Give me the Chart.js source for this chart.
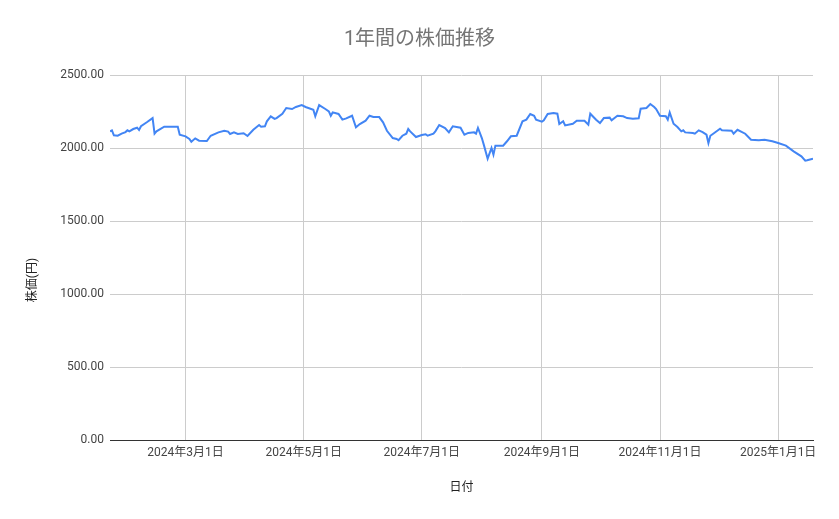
<!DOCTYPE html>
<html>
<head>
<meta charset="utf-8">
<script src="https://cdn.jsdelivr.net/npm/chart.js@4/dist/chart.umd.min.js"></script>
<style>
  html, body { margin: 0; padding: 0; background: #ffffff; }
  #wrap { width: 839px; height: 519px; }
</style>
</head>
<body>
<div id="wrap"><canvas id="c" width="839" height="519"></canvas></div>
<script>
// ---- data ----
const chartTitle = '1年間の株価推移';
const xAxisTitle = '日付';
const yAxisTitle = '株価(円)';

const dates = [
  '2024-01-22','2024-01-23','2024-01-24','2024-01-26','2024-01-28','2024-01-30','2024-01-31','2024-02-01',
  '2024-02-03','2024-02-05','2024-02-06','2024-02-07','2024-02-10','2024-02-13','2024-02-14','2024-02-15',
  '2024-02-19','2024-02-26','2024-02-27','2024-03-01','2024-03-03','2024-03-04','2024-03-06','2024-03-08',
  '2024-03-12','2024-03-14','2024-03-18','2024-03-21','2024-03-23','2024-03-24','2024-03-26','2024-03-28',
  '2024-03-31','2024-04-02','2024-04-05','2024-04-08','2024-04-09','2024-04-11','2024-04-12','2024-04-14',
  '2024-04-16','2024-04-17','2024-04-20','2024-04-22','2024-04-25','2024-04-27','2024-04-30','2024-05-02',
  '2024-05-06','2024-05-07','2024-05-09','2024-05-12','2024-05-14','2024-05-15','2024-05-16','2024-05-19',
  '2024-05-21','2024-05-23','2024-05-26','2024-05-28','2024-05-30','2024-06-02','2024-06-04','2024-06-06',
  '2024-06-09','2024-06-11','2024-06-13','2024-06-16','2024-06-18','2024-06-19','2024-06-21','2024-06-23',
  '2024-06-24','2024-06-25','2024-06-28','2024-07-01','2024-07-03','2024-07-04','2024-07-07','2024-07-08',
  '2024-07-10','2024-07-13','2024-07-15','2024-07-17','2024-07-21','2024-07-23','2024-07-25','2024-07-28',
  '2024-07-29','2024-07-30','2024-08-01','2024-08-02','2024-08-04','2024-08-06','2024-08-07','2024-08-08',
  '2024-08-12','2024-08-14','2024-08-16','2024-08-19','2024-08-22','2024-08-24','2024-08-26','2024-08-28',
  '2024-08-29','2024-09-01','2024-09-02','2024-09-04','2024-09-07','2024-09-09','2024-09-10','2024-09-12',
  '2024-09-13','2024-09-17','2024-09-19','2024-09-23','2024-09-25','2024-09-26','2024-09-29','2024-10-01',
  '2024-10-03','2024-10-06','2024-10-07','2024-10-10','2024-10-13','2024-10-15','2024-10-18','2024-10-21',
  '2024-10-22','2024-10-25','2024-10-27','2024-10-29','2024-10-30','2024-11-01','2024-11-04','2024-11-05',
  '2024-11-06','2024-11-08','2024-11-10','2024-11-12','2024-11-13','2024-11-14','2024-11-18','2024-11-19',
  '2024-11-21','2024-11-23','2024-11-25','2024-11-26','2024-11-27','2024-11-29','2024-12-02','2024-12-03',
  '2024-12-08','2024-12-09','2024-12-11','2024-12-15','2024-12-18','2024-12-22','2024-12-25','2024-12-29',
  '2025-01-01','2025-01-05','2025-01-09','2025-01-13','2025-01-15','2025-01-16','2025-01-19'
];

const prices = [
  2114,2121,2087,2084,2098,2109,2121,2114,
  2130,2139,2123,2149,2176,2205,2098,2114,
  2146,2146,2091,2080,2062,2043,2066,2050,
  2048,2084,2107,2118,2112,2096,2107,2096,
  2101,2082,2125,2157,2146,2149,2183,2217,
  2199,2205,2235,2274,2267,2281,2294,2281,
  2262,2217,2294,2269,2251,2221,2244,2233,
  2194,2203,2221,2142,2164,2187,2221,2212,
  2212,2176,2118,2068,2062,2053,2084,2098,
  2130,2114,2075,2089,2094,2084,2098,2114,
  2157,2137,2107,2149,2139,2091,2103,2107,
  2098,2137,2068,2023,1927,2000,1954,2016,
  2016,2046,2080,2084,2183,2194,2233,2221,
  2194,2180,2190,2233,2240,2235,2164,2183,
  2155,2166,2187,2187,2160,2235,2194,2171,
  2205,2208,2190,2221,2217,2205,2201,2203,
  2269,2274,2301,2281,2267,2221,2217,2194,
  2244,2166,2144,2114,2121,2107,2103,2098,
  2121,2109,2091,2034,2084,2103,2132,2121,
  2118,2098,2125,2098,2057,2053,2057,2046,
  2034,2016,1977,1943,1913,1916,1927
];

const tickDates  = ['2024-03-01','2024-05-01','2024-07-01','2024-09-01','2024-11-01','2025-01-01'];
const tickLabels = ['2024年3月1日','2024年5月1日','2024年7月1日','2024年9月1日','2024年11月1日','2025年1月1日'];

const yMin = 0, yMax = 2500, yStep = 500;

// ---- helpers ----
const DAY = 86400000;
const ORIGIN = Date.UTC(2024, 0, 1);
function toDay(s) {
  const p = s.split('-').map(Number);
  return (Date.UTC(p[0], p[1] - 1, p[2]) - ORIGIN) / DAY;
}
const points = dates.map((d, i) => ({ x: toDay(d), y: prices[i] }));
const tickDays = tickDates.map(toDay);

const FONT = '"Roboto", "Noto Sans CJK JP", "Noto Sans", sans-serif';

const yTitlePlugin = {
  id: 'yTitle',
  afterDraw(chart) {
    const ctx = chart.ctx;
    ctx.save();
    ctx.translate(33, 280);
    ctx.rotate(-Math.PI / 2);
    ctx.font = '12px ' + FONT;
    ctx.fillStyle = '#222222';
    ctx.textAlign = 'center';
    ctx.textBaseline = 'middle';
    ctx.fillText(yAxisTitle, 0, 0);
    ctx.restore();
  }
};

const bgPlugin = {
  id: 'bg',
  beforeDraw(chart) {
    const ctx = chart.ctx;
    ctx.save();
    ctx.fillStyle = '#ffffff';
    ctx.fillRect(0, 0, chart.width, chart.height);
    ctx.restore();
  }
};

new Chart(document.getElementById('c'), {
  type: 'line',
  data: {
    datasets: [{
      data: points,
      borderColor: '#4285f4',
      borderWidth: 2,
      pointRadius: 0,
      tension: 0,
      fill: false
    }]
  },
  options: {
    responsive: false,
    animation: false,
    devicePixelRatio: 1,
    layout: { padding: { left: 26, right: 26, top: 0, bottom: 0 } },
    plugins: {
      legend: { display: false },
      tooltip: { enabled: false },
      title: {
        display: true,
        text: chartTitle,
        color: '#757575',
        font: { family: FONT, size: 20, weight: 'normal' },
        padding: { top: 28, bottom: 23 }
      }
    },
    scales: {
      x: {
        type: 'linear',
        min: points[0].x,
        max: points[points.length - 1].x,
        afterFit(s) { s.height = 79; },
        afterBuildTicks(s) { s.ticks = tickDays.map(v => ({ value: v })); },
        ticks: {
          autoSkip: false,
          maxRotation: 0,
          padding: 6,
          color: '#444444',
          font: { family: FONT, size: 12 },
          callback: (v, i) => tickLabels[i]
        },
        grid: { color: '#cccccc', drawTicks: false, lineWidth: 1 },
        border: { display: true, color: '#333333', width: 1 },
        title: {
          display: true,
          text: xAxisTitle,
          color: '#222222',
          font: { family: FONT, size: 12 },
          padding: { top: 0, bottom: 24 }
        }
      },
      y: {
        min: yMin,
        max: yMax,
        afterFit(s) { s.width = 84; },
        ticks: {
          stepSize: yStep,
          padding: 6,
          color: '#444444',
          font: { family: FONT, size: 12 },
          callback: v => Number(v).toFixed(2)
        },
        grid: {
          drawTicks: false,
          lineWidth: 1,
          color: c => (c.tick && c.tick.value === 0 ? '#333333' : '#cccccc')
        },
        border: { display: false }
      }
    }
  },
  plugins: [bgPlugin, yTitlePlugin]
});
</script>
</body>
</html>
